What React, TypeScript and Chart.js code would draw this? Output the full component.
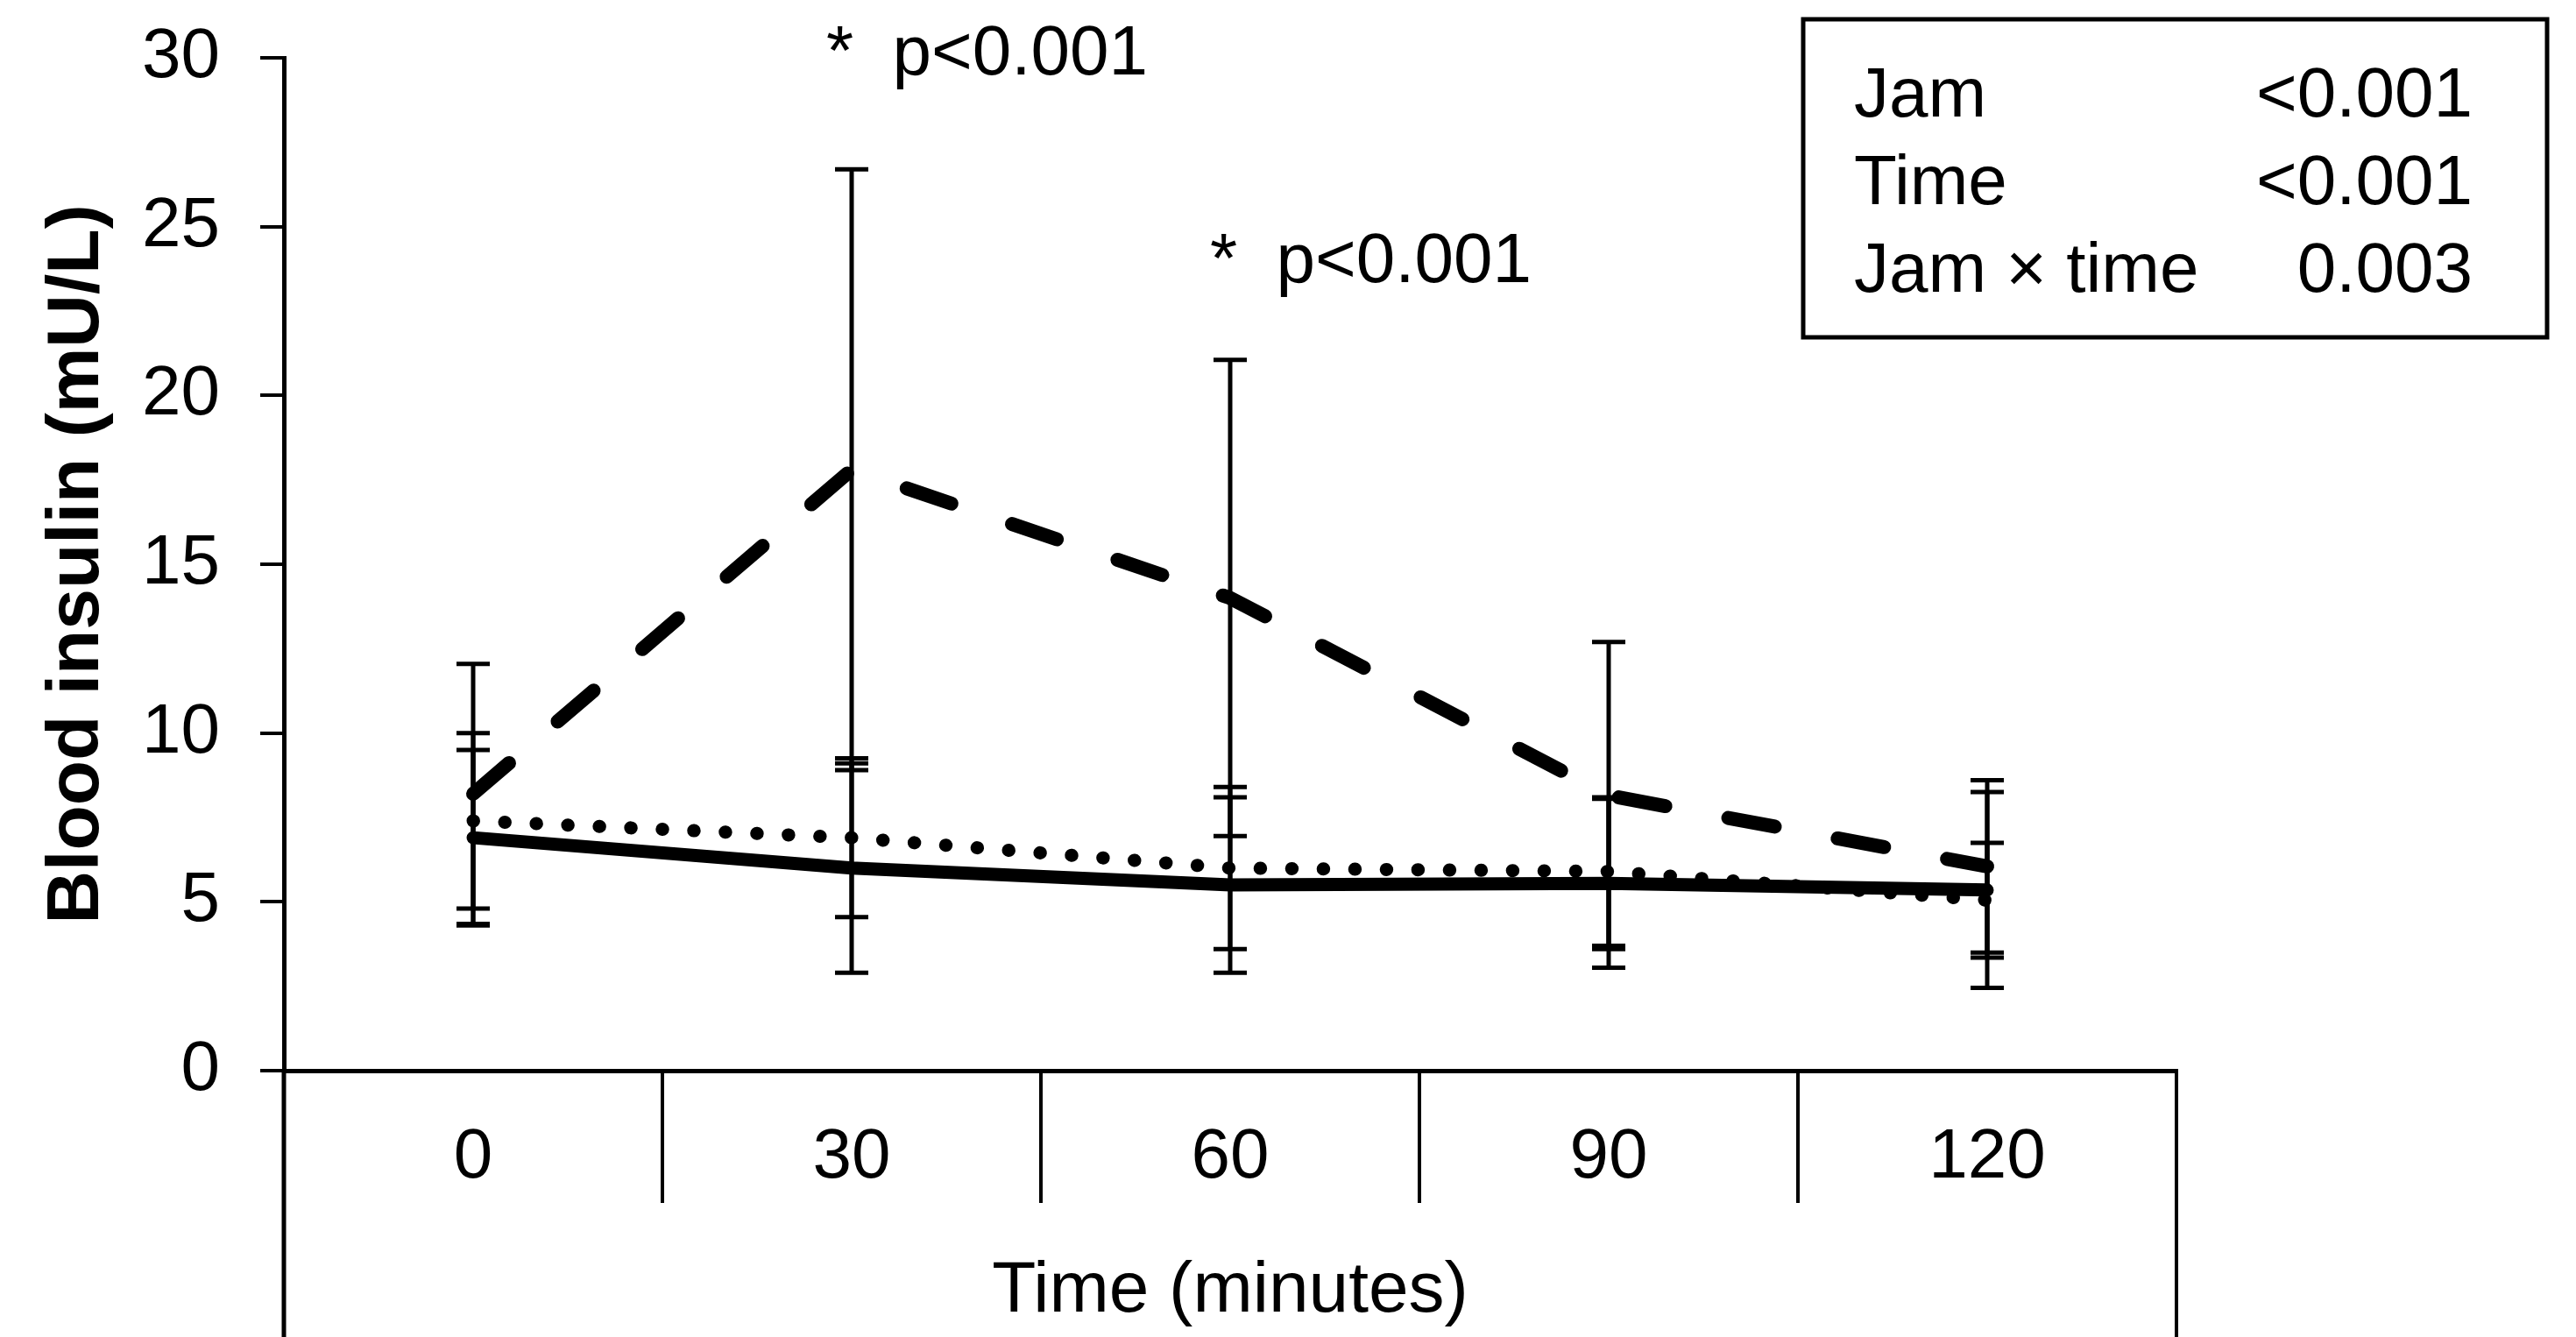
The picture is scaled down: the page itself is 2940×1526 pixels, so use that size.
import React, { useEffect, useRef } from 'react';
import { Chart, registerables } from 'chart.js';

Chart.register(...registerables);

// ---------- data ----------
const timeLabels = ['0', '30', '60', '90', '120'];

const dashedMean = [8.2, 17.8, 14.0, 8.15, 6.05];
const dashedSD = [3.85, 8.9, 7.05, 4.55, 2.55];

const dottedMean = [7.4, 6.9, 6.0, 5.9, 5.05];
const dottedSD = [2.6, 2.35, 2.4, 2.2, 1.7];

const solidMean = [6.9, 6.0, 5.5, 5.55, 5.35];
const solidSD = [2.6, 3.1, 2.6, 2.5, 2.9];

const yMin = 0;
const yMax = 30;
const yStep = 5;

const annotationTexts = ['*  p<0.001', '*  p<0.001'];
const annotationIndex = [1, 2];
const annotationValue = [29.5, 23.35];

const statNames = ['Jam', 'Time', 'Jam × time'];
const statValues = ['<0.001', '<0.001', '0.003'];

// ---------- style ----------
const FONT = '"Liberation Sans", Arial, Helvetica, sans-serif';
const BLACK = '#000000';

const errorBarPlugin = {
  id: 'errorBars',
  afterDatasetsDraw(chart: any) {
    const ctx = chart.ctx;
    const yScale = chart.scales.y;
    ctx.save();
    ctx.strokeStyle = BLACK;
    ctx.lineWidth = 5;
    ctx.lineCap = 'butt';
    chart.data.datasets.forEach((ds: any, di: number) => {
      const meta = chart.getDatasetMeta(di);
      if (!ds.sd) return;
      ds.data.forEach((v: number, i: number) => {
        const pt = meta.data[i];
        if (!pt) return;
        const x = pt.x;
        const yTop = yScale.getPixelForValue(v + ds.sd[i]);
        const yBot = yScale.getPixelForValue(v - ds.sd[i]);
        const half = 19;
        ctx.beginPath();
        ctx.moveTo(x, yTop);
        ctx.lineTo(x, yBot);
        ctx.moveTo(x - half, yTop);
        ctx.lineTo(x + half, yTop);
        ctx.moveTo(x - half, yBot);
        ctx.lineTo(x + half, yBot);
        ctx.stroke();
      });
    });
    ctx.restore();
  },
};

const framePlugin = {
  id: 'frameExtension',
  afterDraw(chart: any) {
    const ctx = chart.ctx;
    const { left, right, bottom } = chart.chartArea;
    ctx.save();
    ctx.strokeStyle = BLACK;
    ctx.lineWidth = 5;
    ctx.beginPath();
    ctx.moveTo(left, bottom);
    ctx.lineTo(left, chart.height);
    ctx.stroke();
    ctx.lineWidth = 4;
    ctx.beginPath();
    ctx.moveTo(right, bottom);
    ctx.lineTo(right, chart.height);
    ctx.stroke();
    ctx.restore();
  },
};

const annotationPlugin = {
  id: 'annotations',
  afterDraw(chart: any) {
    const ctx = chart.ctx;
    const xScale = chart.scales.x;
    const yScale = chart.scales.y;
    ctx.save();
    ctx.fillStyle = BLACK;
    ctx.font = `80px ${FONT}`;
    ctx.textAlign = 'left';
    ctx.textBaseline = 'alphabetic';
    const dx = [-29, -23];
    annotationTexts.forEach((t, k) => {
      const x = xScale.getPixelForValue(annotationIndex[k]) + dx[k];
      const y = yScale.getPixelForValue(annotationValue[k]);
      ctx.fillText(t, x, y);
    });

    // statistics box
    const boxL = 2058, boxT = 22, boxR = 2907, boxB = 385;
    ctx.strokeStyle = BLACK;
    ctx.lineWidth = 5;
    ctx.strokeRect(boxL, boxT, boxR - boxL, boxB - boxT);
    statNames.forEach((name, k) => {
      const baseY = 133 + k * 100;
      ctx.textAlign = 'left';
      ctx.fillText(name, 2116, baseY);
      ctx.textAlign = 'right';
      ctx.fillText(statValues[k], 2822, baseY);
    });
    ctx.restore();
  },
};

export default function App() {
  const canvasRef = useRef<HTMLCanvasElement | null>(null);

  useEffect(() => {
    const canvas = canvasRef.current;
    if (!canvas) return;
    Chart.defaults.font.family = FONT;
    Chart.defaults.color = BLACK;

    const chart = new Chart(canvas, {
      type: 'line',
      data: {
        labels: timeLabels,
        datasets: [
          {
            label: 'Solid',
            data: solidMean,
            sd: solidSD,
            borderColor: BLACK,
            borderWidth: 15,
            borderCapStyle: 'round',
            borderJoinStyle: 'round',
            pointRadius: 0,
            tension: 0,
            fill: false,
          } as any,
          {
            label: 'Dotted',
            data: dottedMean,
            sd: dottedSD,
            borderColor: BLACK,
            borderWidth: 15,
            borderDash: [0.5, 35.5],
            borderCapStyle: 'round',
            borderJoinStyle: 'round',
            pointRadius: 0,
            tension: 0,
            fill: false,
          } as any,
          {
            label: 'Dashed',
            data: dashedMean,
            sd: dashedSD,
            borderColor: BLACK,
            borderWidth: 16,
            borderDash: [54, 73],
            borderCapStyle: 'round',
            borderJoinStyle: 'round',
            pointRadius: 0,
            tension: 0,
            fill: false,
          } as any,
        ],
      },
      options: {
        responsive: false,
        devicePixelRatio: 1,
        animation: false,
        layout: { padding: { left: 0, top: 66, right: 456, bottom: 0 } },
        plugins: {
          legend: { display: false },
          tooltip: { enabled: false },
        },
        scales: {
          x: {
            type: 'category',
            offset: true,
            grid: {
              offset: true,
              drawOnChartArea: false,
              drawTicks: true,
              tickLength: 151,
              lineWidth: 4,
              color: BLACK,
            },
            border: { display: true, width: 5, color: BLACK },
            ticks: {
              font: { size: 80, family: FONT },
              color: BLACK,
              padding: -99,
              maxRotation: 0,
              autoSkip: false,
            },
            title: {
              display: true,
              text: 'Time (minutes)',
              font: { size: 82, family: FONT },
              color: BLACK,
              padding: { top: 0, bottom: 2 },
            },
            afterFit: (scale: any) => {
              scale.height = 304;
              scale.paddingLeft = 0;
              scale.paddingRight = 0;
            },
          },
          y: {
            type: 'linear',
            min: yMin,
            max: yMax,
            grid: {
              drawOnChartArea: false,
              drawTicks: true,
              tickLength: 27,
              lineWidth: 4,
              color: BLACK,
            },
            border: { display: true, width: 5, color: BLACK },
            ticks: {
              stepSize: yStep,
              font: { size: 80, family: FONT },
              color: BLACK,
              padding: 46,
            },
            title: {
              display: true,
              text: 'Blood insulin (mU/L)',
              font: { size: 84, weight: 'bold', family: FONT },
              color: BLACK,
              padding: { top: 38, bottom: 0 },
            },
            afterFit: (scale: any) => {
              scale.width = 324;
              scale.paddingTop = 0;
              scale.paddingBottom = 0;
            },
          },
        },
      } as any,
      plugins: [errorBarPlugin, framePlugin, annotationPlugin],
    });

    return () => chart.destroy();
  }, []);

  return (
    <div style={{ position: 'absolute', left: 0, top: 0, width: 2940, height: 1526, background: '#ffffff' }}>
      <canvas ref={canvasRef} width={2940} height={1526} style={{ display: 'block', width: 2940, height: 1526 }} />
    </div>
  );
}
